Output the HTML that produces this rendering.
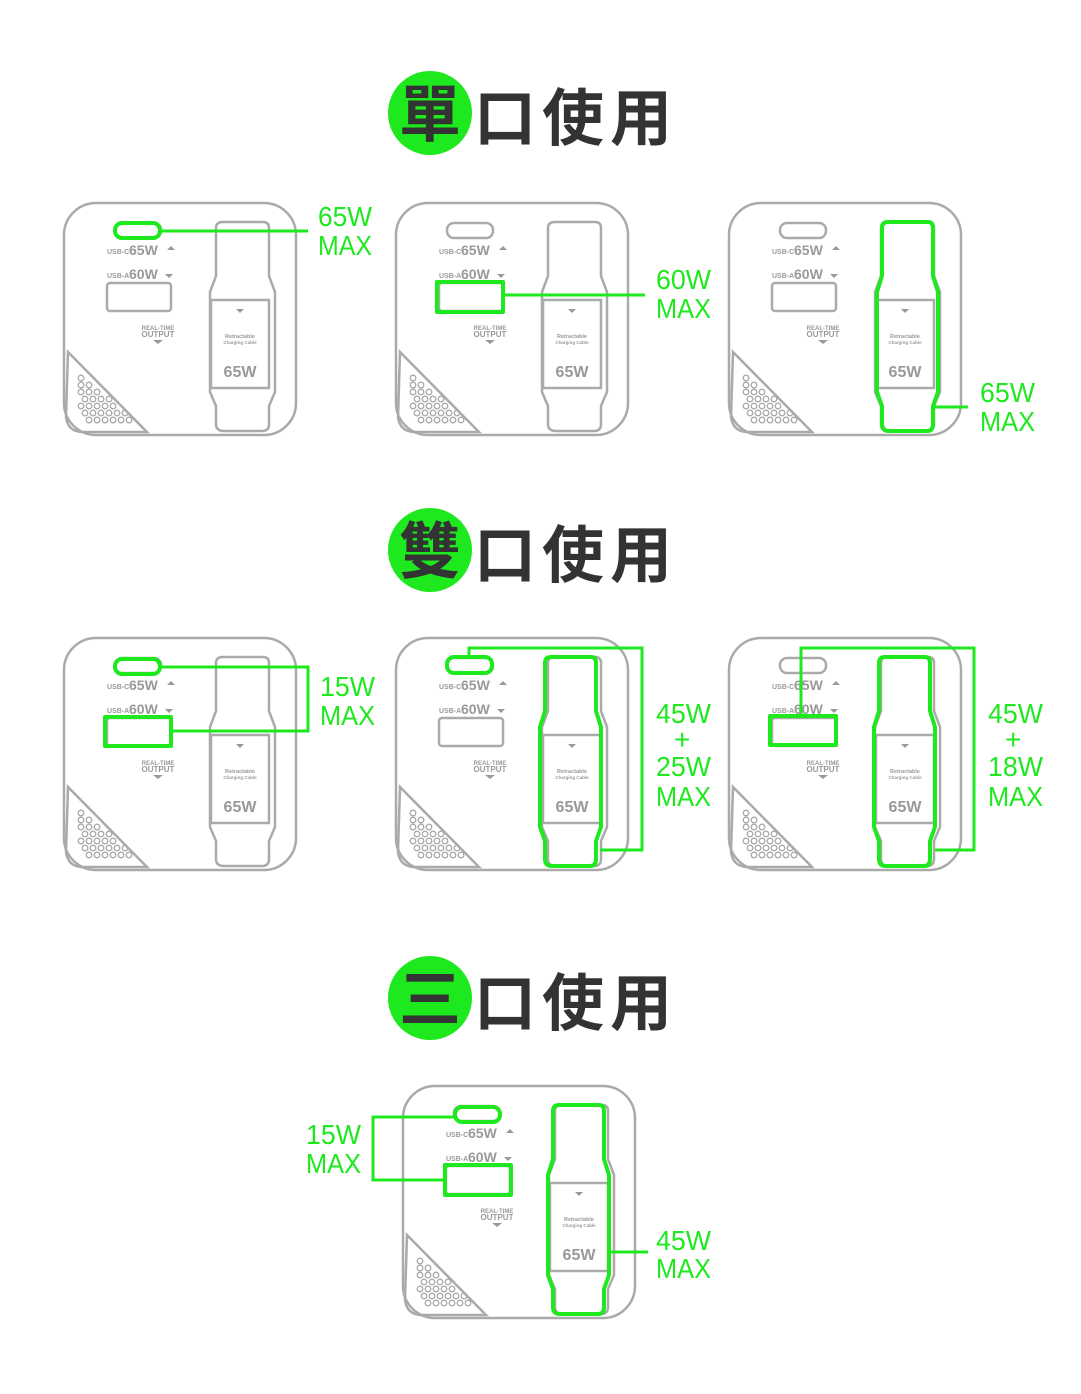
<!DOCTYPE html>
<html><head><meta charset="utf-8"><style>
html,body{margin:0;padding:0;background:#fff;}
svg{display:block;}
.g{fill:none;stroke:#aaa;stroke-width:2.5}
.t{font-family:"Liberation Sans",sans-serif;font-weight:bold;fill:#999}
.gr{fill:none;stroke:#1ee81e;stroke-width:4;stroke-linejoin:round}
.gl{fill:none;stroke:#1ee81e;stroke-width:3}
.lab{font-family:"Liberation Sans",sans-serif;font-size:28px;fill:#1ee81e;}
.ti{font-family:"Liberation Sans","Noto Sans CJK TC",sans-serif;font-weight:bold;font-size:62px;fill:#333}
</style></head><body>
<svg width="1081" height="1394" viewBox="0 0 1081 1394" xmlns="http://www.w3.org/2000/svg">
<defs>
<g id="ch">
 <rect class="g" x="1" y="1" width="232" height="232" rx="32"/>
 <rect class="g" x="52" y="21" width="46" height="15" rx="7"/>
 <text class="t" x="44" y="52" font-size="7">USB-C</text><text class="t" x="66" y="53" font-size="14">65W</text>
 <path d="M104 48 l4 -4 l4 4z" fill="#999"/>
 <text class="t" x="44" y="76" font-size="7">USB-A</text><text class="t" x="66" y="77" font-size="14">60W</text>
 <path d="M102 72 l4 4 l4 -4z" fill="#999"/>
 <rect class="g" x="44" y="81" width="64" height="28" rx="3"/>
 <text class="t" x="95" y="128" font-size="6" text-anchor="middle">REAL-TIME</text>
 <text class="t" x="95" y="135" font-size="8" text-anchor="middle">OUTPUT</text>
 <path d="M90 138 h10 l-5 4z" fill="#999"/>
 <path class="g" d="M160 20 H200 Q206 20 206 26 V74 L212 90 V190 L206 204 V222 Q206 229 199 229 H161 Q153 229 153 222 V204 L147 190 V90 L153 74 V26 Q153 20 160 20Z"/>
 <rect class="g" x="148" y="98" width="58" height="88" fill="#fff"/>
 <path d="M173 107 h8 l-4 4z" fill="#999"/>
 <text class="t" x="177" y="136" font-size="5.5" text-anchor="middle">Retractable</text>
 <text class="t" x="177" y="142" font-size="4.5" text-anchor="middle">Charging Cable</text>
 <text class="t" x="177" y="175" font-size="16" text-anchor="middle">65W</text>
 <path class="g" d="M5 150 L84 230 H20 Q5 230 3 215 Z"/>
 <g fill="none" stroke="#aaa" stroke-width="1.3" transform="translate(4,-2)">
  <circle cx="14" cy="178" r="2.8"/>
  <circle cx="14" cy="185" r="2.8"/><circle cx="22" cy="185" r="2.8"/>
  <circle cx="14" cy="192" r="2.8"/><circle cx="22" cy="192" r="2.8"/><circle cx="30" cy="192" r="2.8"/>
  <circle cx="18" cy="199" r="2.8"/><circle cx="26" cy="199" r="2.8"/><circle cx="34" cy="199" r="2.8"/><circle cx="42" cy="199" r="2.8"/>
  <circle cx="14" cy="206" r="2.8"/><circle cx="22" cy="206" r="2.8"/><circle cx="30" cy="206" r="2.8"/><circle cx="38" cy="206" r="2.8"/><circle cx="46" cy="206" r="2.8"/>
  <circle cx="18" cy="213" r="2.8"/><circle cx="26" cy="213" r="2.8"/><circle cx="34" cy="213" r="2.8"/><circle cx="42" cy="213" r="2.8"/><circle cx="50" cy="213" r="2.8"/><circle cx="58" cy="213" r="2.8"/>
  <circle cx="22" cy="220" r="2.8"/><circle cx="30" cy="220" r="2.8"/><circle cx="38" cy="220" r="2.8"/><circle cx="46" cy="220" r="2.8"/><circle cx="54" cy="220" r="2.8"/><circle cx="62" cy="220" r="2.8"/>
 </g>
</g>
<path id="cab" d="M160 20 H200 Q205 20 205 26 V74 L210 90 V190 L205 204 V222 Q205 229 199 229 H161 Q154 229 154 222 V204 L149 190 V90 L154 74 V26 Q154 20 160 20Z"/>
</defs>

<circle cx="430" cy="113" r="42" fill="#1ee81e"/>
<text class="ti" x="430" y="136" text-anchor="middle">單</text>
<text class="ti" x="474" y="140" letter-spacing="6">口使用</text>
<circle cx="430" cy="550" r="42" fill="#1ee81e"/>
<text class="ti" x="430" y="573" text-anchor="middle">雙</text>
<text class="ti" x="474" y="577" letter-spacing="6">口使用</text>
<circle cx="430" cy="998" r="42" fill="#1ee81e"/>
<text class="ti" x="430" y="1021" text-anchor="middle">三</text>
<text class="ti" x="474" y="1025" letter-spacing="6">口使用</text>

<use href="#ch" x="63" y="202"/>
<use href="#ch" x="395" y="202"/>
<use href="#ch" x="728" y="202"/>
<rect class="gr" x="115" y="223" width="45" height="15" rx="7"/>
<line class="gl" x1="160" y1="231" x2="308" y2="231"/>
<text class="lab" x="318" y="226" textLength="54" lengthAdjust="spacingAndGlyphs">65W</text><text class="lab" x="318" y="255" textLength="54" lengthAdjust="spacingAndGlyphs">MAX</text>
<rect class="gr" x="437" y="282" width="66" height="30"/>
<line class="gl" x1="503" y1="295" x2="645" y2="295"/>
<text class="lab" x="656" y="289" textLength="55" lengthAdjust="spacingAndGlyphs">60W</text><text class="lab" x="656" y="318" textLength="55" lengthAdjust="spacingAndGlyphs">MAX</text>
<use href="#cab" class="gr" x="728" y="202"/>
<line class="gl" x1="934" y1="407" x2="968" y2="407"/>
<text class="lab" x="980" y="402" textLength="55" lengthAdjust="spacingAndGlyphs">65W</text><text class="lab" x="980" y="431" textLength="55" lengthAdjust="spacingAndGlyphs">MAX</text>

<use href="#ch" x="63" y="637"/>
<use href="#ch" x="395" y="637"/>
<use href="#ch" x="728" y="637"/>
<rect class="gr" x="115" y="659" width="45" height="15" rx="7"/>
<rect class="gr" x="105" y="717" width="66" height="29"/>
<polyline class="gl" points="160,667 308,667 308,731 171,731"/>
<text class="lab" x="320" y="696" textLength="55" lengthAdjust="spacingAndGlyphs">15W</text><text class="lab" x="320" y="725" textLength="55" lengthAdjust="spacingAndGlyphs">MAX</text>

<rect class="gr" x="447" y="657" width="45" height="16" rx="7"/>
<use href="#cab" class="gr" x="391" y="637"/>
<polyline class="gl" points="469,657 469,648 642,648 642,850 600,850"/>
<text class="lab" x="656" y="723" textLength="55" lengthAdjust="spacingAndGlyphs">45W</text><text class="lab" x="674" y="749">+</text>
<text class="lab" x="656" y="776" textLength="55" lengthAdjust="spacingAndGlyphs">25W</text><text class="lab" x="656" y="806" textLength="55" lengthAdjust="spacingAndGlyphs">MAX</text>

<rect class="gr" x="770" y="716" width="66" height="29"/>
<use href="#cab" class="gr" x="725" y="637"/>
<polyline class="gl" points="801,716 801,648 974,648 974,850 935,850"/>
<text class="lab" x="988" y="723" textLength="55" lengthAdjust="spacingAndGlyphs">45W</text><text class="lab" x="1005" y="749">+</text>
<text class="lab" x="988" y="776" textLength="55" lengthAdjust="spacingAndGlyphs">18W</text><text class="lab" x="988" y="806" textLength="55" lengthAdjust="spacingAndGlyphs">MAX</text>

<use href="#ch" x="402" y="1085"/>
<rect class="gr" x="455" y="1107" width="45" height="15" rx="7"/>
<rect class="gr" x="445" y="1165" width="66" height="30"/>
<use href="#cab" class="gr" x="399" y="1085"/>
<polyline class="gl" points="455,1117 373,1117 373,1180 445,1180"/>
<text class="lab" x="306" y="1144" textLength="55" lengthAdjust="spacingAndGlyphs">15W</text><text class="lab" x="306" y="1173" textLength="55" lengthAdjust="spacingAndGlyphs">MAX</text>
<line class="gl" x1="608" y1="1252" x2="648" y2="1252"/>
<text class="lab" x="656" y="1250" textLength="55" lengthAdjust="spacingAndGlyphs">45W</text><text class="lab" x="656" y="1278" textLength="55" lengthAdjust="spacingAndGlyphs">MAX</text>
</svg>
</body></html>
